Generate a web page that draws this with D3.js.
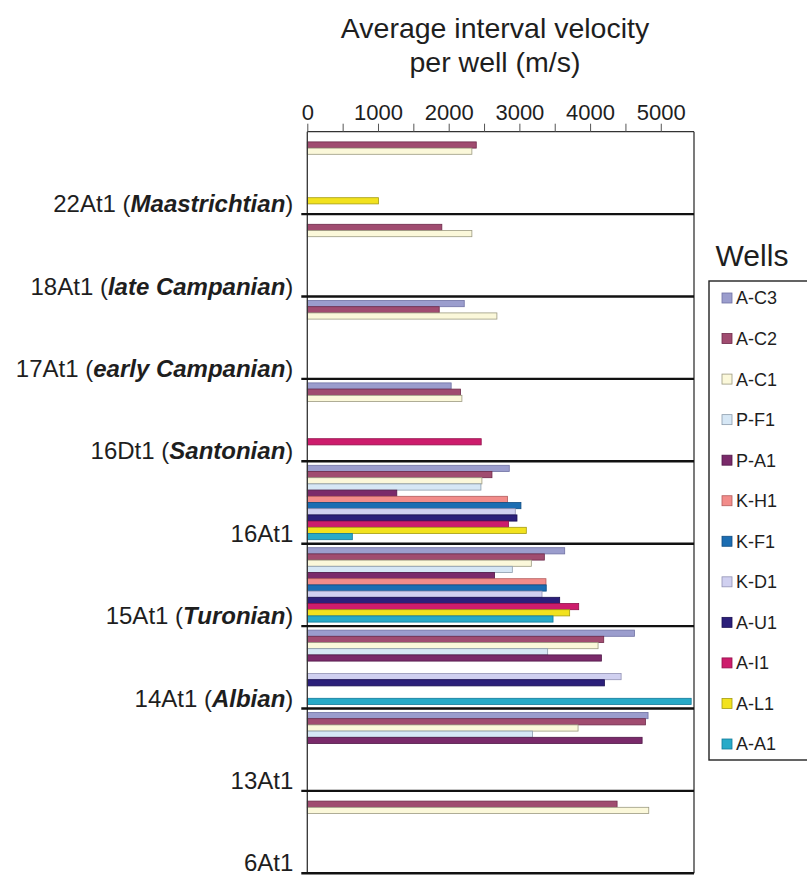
<!DOCTYPE html>
<html>
<head>
<meta charset="utf-8">
<script src="https://cdn.jsdelivr.net/npm/d3@7"></script>
<style>
  html, body { margin: 0; padding: 0; background: #fff; }
  svg { display: block; font-family: "Liberation Sans", Arial, sans-serif; }
</style>
</head>
<body>
<svg id="chart" width="807" height="881"></svg>
<script>
// Horizons marking the base of each interval (top to bottom)
const horizonCodes = ["22At1", "18At1", "17At1", "16Dt1", "16At1", "15At1", "14At1", "13At1", "6At1"];
const horizonStages = ["Maastrichtian", "late Campanian", "early Campanian", "Santonian", "", "Turonian", "Albian", "", ""];

// Wells, in legend / bar order
const wells = ["A-C3", "A-C2", "A-C1", "P-F1", "P-A1", "K-H1", "K-F1", "K-D1", "A-U1", "A-I1", "A-L1", "A-A1"];
const wellFills   = ["#9b9dcd", "#a04c70", "#fbf8da", "#d6e7f5", "#7a2a6a", "#f28c8a", "#1b6db2", "#d0d0f0", "#2b1f7a", "#cd1c6c", "#f2e21e", "#27aac8"];
const wellStrokes = ["#6f71a3", "#6e2a4a", "#9c9a80", "#8c9cac", "#501848", "#b45c5c", "#0f4c82", "#9292b4", "#190f52", "#92104a", "#a49c12", "#127a9a"];

// Average interval velocity (m/s) per well, one value per interval (null = no data)
const vAC3 = [null, null, 2220, 2035, 2857, 3641, 4627, 4820, null];
const vAC2 = [2390, 1903, 1866, 2168, 2612, 3353, 4193, 4783, 4382];
const vAC1 = [2328, 2328, 2682, 2187, 2470, 3169, 4113, 3830, 4830];
const vPF1 = [null, null, null, null, 2456, 2900, 3400, 3185, null];
const vPA1 = [null, null, null, null, 1266, 2649, 4160, 4736, null];
const vKH1 = [null, null, null, null, 2833, 3376, null, null, null];
const vKF1 = [null, null, null, null, 3022, 3380, null, null, null];
const vKD1 = [null, null, null, null, 2942, 3320, 4439, null, null];
const vAU1 = [null, null, null, null, 2966, 3570, 4203, null, null];
const vAI1 = [null, null, null, 2460, 2847, 3839, null, null, null];
const vAL1 = [1006, null, null, null, 3098, 3711, null, null, null];
const vAA1 = [null, null, null, null, 637, 3476, 5430, null, null];
const seriesValues = [vAC3, vAC2, vAC1, vPF1, vPA1, vKH1, vKF1, vKD1, vAU1, vAI1, vAL1, vAA1];

// Axis ticks
const xTickValues = [0, 500, 1000, 1500, 2000, 2500, 3000, 3500, 4000, 4500, 5000];
const xTickLabels = ["0", "", "1000", "", "2000", "", "3000", "", "4000", "", "5000"];

const svg = d3.select("#chart");
const plot = { left: 307.3, right: 694, top: 131.7, bottom: 873.3 };

const x = d3.scaleLinear().domain([0, 5470]).range([plot.left, plot.right]);
const y = d3.scaleBand().domain(d3.range(horizonCodes.length)).range([plot.top, plot.bottom]).paddingInner(0).paddingOuter(0);
const yWell = d3.scaleBand().domain(wells).range([0, y.bandwidth()]).paddingInner(0).paddingOuter(0.645);

// Title
const title = svg.append("text")
  .attr("x", 495).attr("y", 38)
  .attr("text-anchor", "middle")
  .attr("font-size", 28.5)
  .attr("fill", "#1e1e1e");
title.append("tspan").attr("x", 495).attr("y", 38).text("Average interval velocity");
title.append("tspan").attr("x", 495).attr("y", 72).text("per well (m/s)");

// Bars
const barData = [];
seriesValues.forEach((vals, s) => {
  vals.forEach((v, i) => { if (v != null) barData.push({ s, i, v }); });
});
svg.append("g").selectAll("rect").data(barData).join("rect")
  .attr("x", x(0))
  .attr("y", d => y(d.i) + yWell(wells[d.s]))
  .attr("width", d => x(d.v) - x(0))
  .attr("height", yWell.bandwidth())
  .attr("fill", d => wellFills[d.s])
  .attr("stroke", d => wellStrokes[d.s])
  .attr("stroke-width", 0.8);

// Plot frame: top and right edges
svg.append("line").attr("x1", plot.left).attr("x2", plot.right).attr("y1", plot.top).attr("y2", plot.top)
  .attr("stroke", "#333").attr("stroke-width", 1.3);
svg.append("line").attr("x1", plot.right).attr("x2", plot.right).attr("y1", plot.top).attr("y2", plot.bottom)
  .attr("stroke", "#333").attr("stroke-width", 1.3);

// Top value axis
const xAxis = d3.axisTop(x)
  .tickValues(xTickValues)
  .tickFormat((d, i) => xTickLabels[i])
  .tickSize(8)
  .tickPadding(4);
const gx = svg.append("g").attr("transform", `translate(0,${plot.top})`).call(xAxis);
gx.select(".domain").remove();
gx.selectAll(".tick line").attr("stroke", "#555").attr("stroke-width", 1);
gx.selectAll(".tick text")
  .attr("font-family", "Liberation Sans, Arial, sans-serif")
  .attr("font-size", 22)
  .attr("fill", "#1e1e1e");

// Left axis line
svg.append("line").attr("x1", plot.left).attr("x2", plot.left).attr("y1", plot.top).attr("y2", plot.bottom)
  .attr("stroke", "#333").attr("stroke-width", 1.3);

// Horizon lines at the base of each interval
svg.append("g").selectAll("line").data(d3.range(horizonCodes.length)).join("line")
  .attr("x1", plot.left - 6).attr("x2", plot.right)
  .attr("y1", i => y(i) + y.bandwidth())
  .attr("y2", i => y(i) + y.bandwidth())
  .attr("stroke", "#111").attr("stroke-width", 2.4);

// Horizon labels
const labels = svg.append("g").selectAll("text").data(d3.range(horizonCodes.length)).join("text")
  .attr("x", plot.left - 14)
  .attr("y", i => y(i) + y.bandwidth() - 2)
  .attr("text-anchor", "end")
  .attr("font-size", 24)
  .attr("fill", "#1e1e1e");
labels.each(function(i) {
  const t = d3.select(this);
  t.append("tspan").text(horizonCodes[i]);
  if (horizonStages[i]) {
    t.append("tspan").text(" (");
    t.append("tspan").attr("font-weight", "bold").attr("font-style", "italic").text(horizonStages[i]);
    t.append("tspan").text(")");
  }
});

// Legend
const legend = svg.append("g");
legend.append("text").attr("x", 752).attr("y", 266).attr("text-anchor", "middle")
  .attr("font-size", 30).attr("fill", "#1e1e1e").text("Wells");
legend.append("rect").attr("x", 709).attr("y", 281).attr("width", 120).attr("height", 479)
  .attr("fill", "none").attr("stroke", "#222").attr("stroke-width", 1.4);
const legendY = d3.scalePoint().domain(wells).range([298, 744]);
const items = legend.selectAll("g.item").data(wells).join("g").attr("class", "item")
  .attr("transform", d => `translate(0,${legendY(d)})`);
items.append("rect").attr("x", 722).attr("y", -5).attr("width", 10).attr("height", 10)
  .attr("fill", (d, i) => wellFills[i]).attr("stroke", (d, i) => wellStrokes[i]).attr("stroke-width", 0.8);
items.append("text").attr("x", 736).attr("y", 0).attr("dy", "0.36em")
  .attr("font-size", 18).attr("fill", "#1e1e1e").text(d => d);
</script>
</body>
</html>
